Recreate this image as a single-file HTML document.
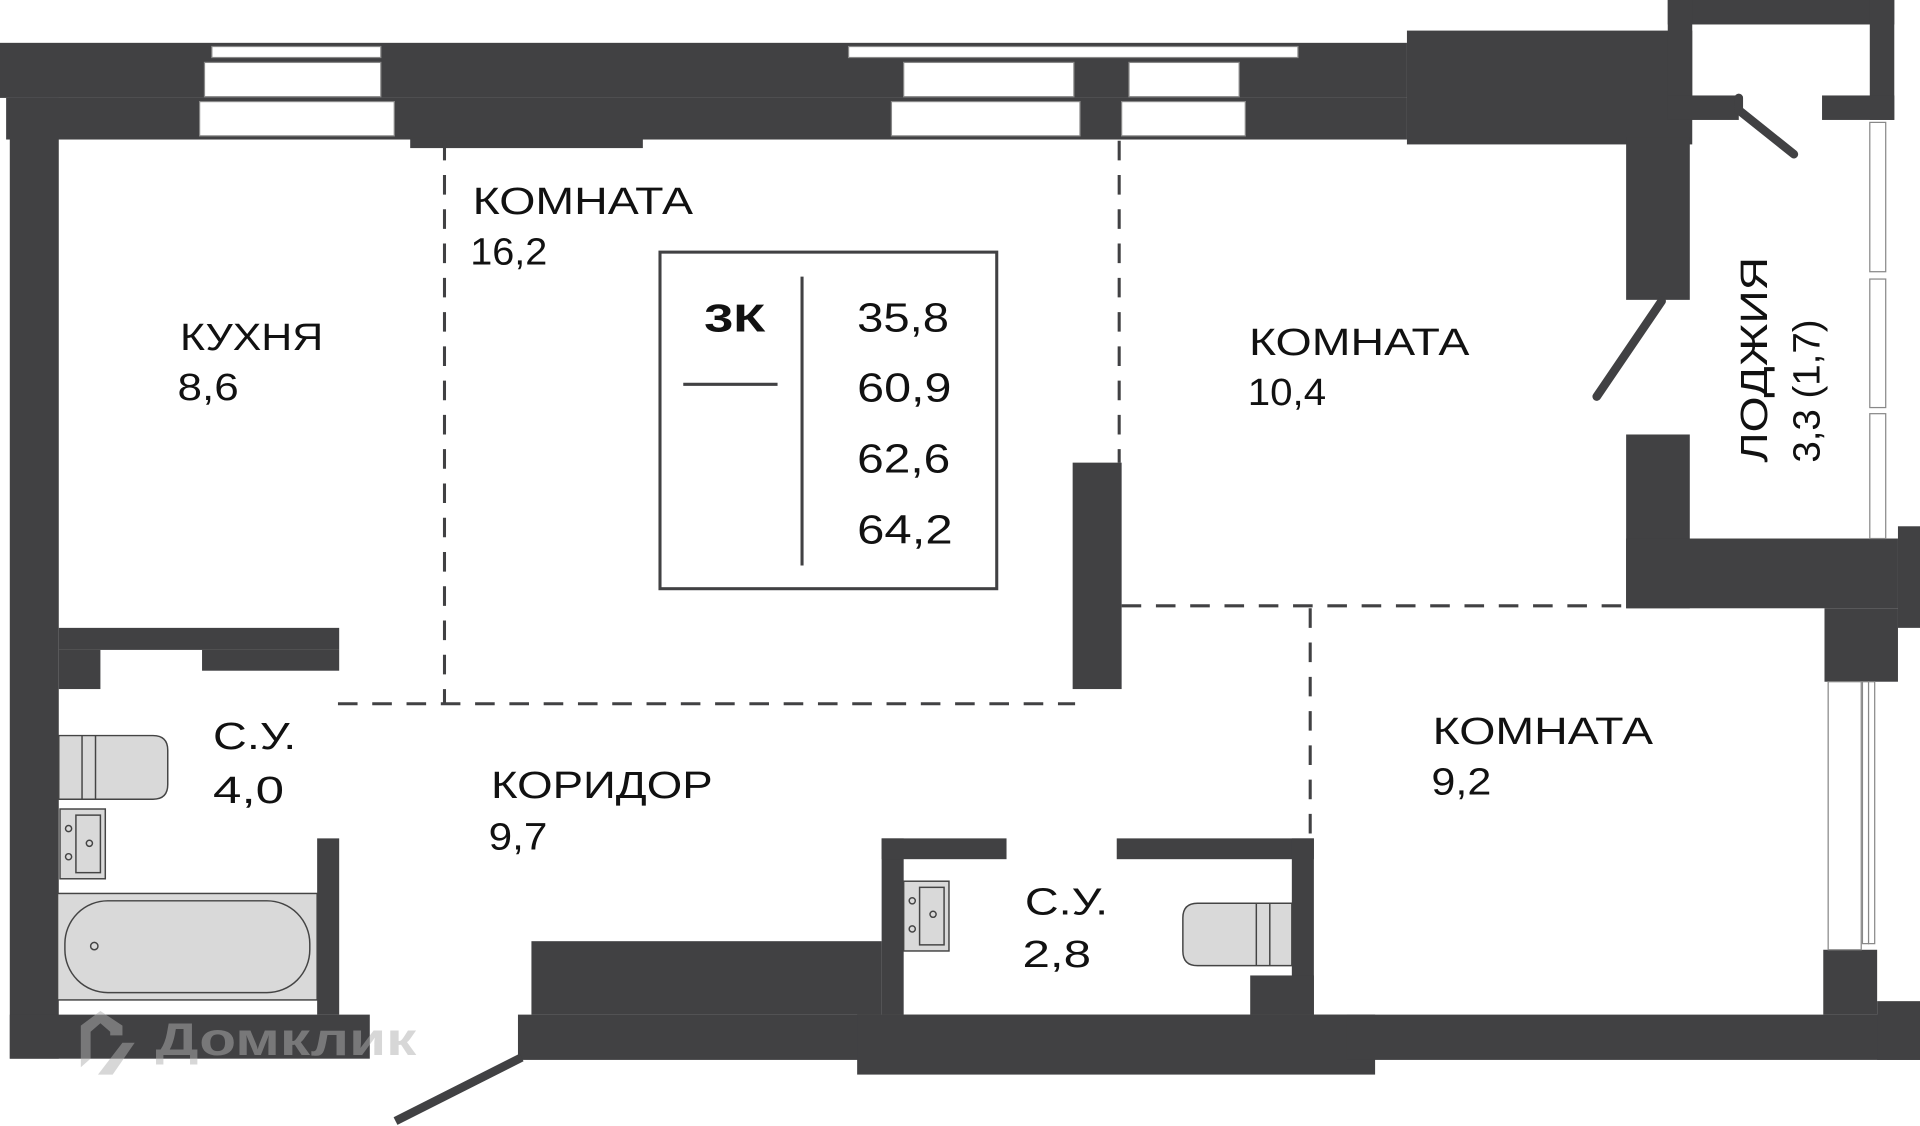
<!DOCTYPE html>
<html><head><meta charset="utf-8"><style>
html,body{margin:0;padding:0;background:#fff;width:1920px;height:1126px;overflow:hidden}
svg{display:block}
text{font-family:"Liberation Sans","DejaVu Sans",sans-serif;fill:#111}
</style></head><body>
<svg width="1920" height="1126" viewBox="0 0 1568 920" preserveAspectRatio="none" xmlns="http://www.w3.org/2000/svg">
<g fill="#414143">
<rect x="0" y="35" width="1149" height="45"/>
<rect x="5" y="80" width="1144" height="34"/>
<rect x="1149" y="25" width="233" height="93"/>
<rect x="335" y="112" width="190" height="9"/>
<rect x="1362" y="0" width="185" height="20"/>
<rect x="1362" y="0" width="20" height="98"/>
<rect x="1527" y="0" width="20" height="98"/>
<rect x="1488" y="78" width="59" height="20"/>
<rect x="1362" y="78" width="58" height="20"/>
<rect x="1328" y="112" width="52" height="133"/>
<rect x="1328" y="355" width="52" height="142"/>
<rect x="1328" y="440" width="222" height="57"/>
<rect x="1550" y="430" width="18" height="83"/>
<rect x="1490" y="497" width="60" height="60"/>
<rect x="1489" y="776" width="44" height="53"/>
<rect x="8" y="80" width="40" height="785"/>
<rect x="48" y="513" width="229" height="18"/>
<rect x="165" y="531" width="112" height="17"/>
<rect x="48" y="531" width="34" height="32"/>
<rect x="259" y="685" width="18" height="144"/>
<rect x="8" y="829" width="294" height="36"/>
<rect x="876" y="378" width="40" height="185"/>
<rect x="434" y="769" width="286" height="60"/>
<rect x="423" y="829" width="700" height="37"/>
<rect x="700" y="829" width="423" height="49"/>
<rect x="1100" y="829" width="468" height="37"/>
<rect x="1533" y="818" width="35" height="48"/>
<rect x="720" y="685" width="18" height="144"/>
<rect x="720" y="685" width="102" height="17"/>
<rect x="912" y="685" width="161" height="17"/>
<rect x="1055" y="685" width="18" height="144"/>
<rect x="1021" y="797" width="52" height="32"/>
</g>
<g fill="#fff" stroke="#888" stroke-width="1">
<rect x="173" y="38" width="138" height="9"/>
<rect x="167" y="51" width="144" height="28"/>
<rect x="163" y="83" width="159" height="28"/>
<rect x="693" y="38" width="367" height="9"/>
<rect x="738" y="51" width="139" height="28"/>
<rect x="922" y="51" width="90" height="28"/>
<rect x="728" y="83" width="154" height="28"/>
<rect x="916" y="83" width="101" height="28"/>
<rect x="1527" y="100" width="13" height="122"/>
<rect x="1527" y="228" width="13" height="105"/>
<rect x="1527" y="338" width="13" height="102"/>
<rect x="1493" y="557" width="27" height="219"/>
<rect x="1521" y="557" width="5" height="214"/>
<rect x="1526" y="557" width="5" height="214"/>
</g>
<g stroke="#414143" stroke-width="7" stroke-linecap="round" fill="none">
<polyline points="1420,80 1420,90 1465,126"/>
<line x1="1357" y1="246" x2="1304" y2="324"/>
<line x1="426" y1="864" x2="323" y2="916" stroke-linecap="butt"/>
</g>
<g stroke="#414143" stroke-width="2.5" stroke-dasharray="16,12" fill="none">
<line x1="363" y1="115" x2="363" y2="575"/>
<line x1="276" y1="575" x2="878" y2="575"/>
<line x1="914" y1="115" x2="914" y2="378"/>
<line x1="916" y1="495" x2="1328" y2="495"/>
<line x1="1070" y1="497" x2="1070" y2="685"/>
</g>
<g fill="#d9d9d9" stroke="#444" stroke-width="1.2">
<rect x="47" y="730" width="212" height="87"/>
<rect x="53" y="736" width="200" height="75" rx="35" ry="35"/>
<path d="M48,601 H125 Q137,601 137,613 V641 Q137,653 125,653 H48 Z"/>
<rect x="49" y="661" width="37" height="57"/>
<path d="M1055,738 H978 Q966,738 966,750 V777 Q966,789 978,789 H1055 Z"/>
<rect x="738" y="720" width="37" height="57"/>
</g>
<g stroke="#444" stroke-width="1.2" fill="none">
<line x1="67" y1="601" x2="67" y2="653"/><line x1="78" y1="601" x2="78" y2="653"/>
<line x1="1026" y1="738" x2="1026" y2="789"/><line x1="1037" y1="738" x2="1037" y2="789"/>
<rect x="62" y="666" width="20" height="47"/><rect x="751" y="725" width="20" height="47"/>
<circle cx="77" cy="773" r="3"/>
<circle cx="56" cy="677" r="2.5"/><circle cx="56" cy="700" r="2.5"/><circle cx="73" cy="689" r="2.5"/>
<circle cx="745" cy="736" r="2.5"/><circle cx="745" cy="759" r="2.5"/><circle cx="762" cy="747" r="2.5"/>
</g>
<rect x="539" y="206" width="275" height="275" fill="none" stroke="#414143" stroke-width="2.5"/>
<line x1="655" y1="226" x2="655" y2="462" stroke="#414143" stroke-width="2.5"/>
<line x1="558" y1="314" x2="635" y2="314" stroke="#414143" stroke-width="2.5"/>
<text x="575" y="271" font-size="32" font-weight="bold" textLength="50" lengthAdjust="spacingAndGlyphs">3К</text>
<g font-size="33">
<text x="700" y="271" textLength="75" lengthAdjust="spacingAndGlyphs">35,8</text>
<text x="700" y="328" textLength="77" lengthAdjust="spacingAndGlyphs">60,9</text>
<text x="700" y="386" textLength="76" lengthAdjust="spacingAndGlyphs">62,6</text>
<text x="700" y="444" textLength="78" lengthAdjust="spacingAndGlyphs">64,2</text>
</g>
<g font-size="31">
<text x="386" y="175" textLength="180" lengthAdjust="spacingAndGlyphs">КОМНАТА</text>
<text x="384" y="216" textLength="63" lengthAdjust="spacingAndGlyphs">16,2</text>
<text x="147" y="286" textLength="117" lengthAdjust="spacingAndGlyphs">КУХНЯ</text>
<text x="145" y="327" textLength="50" lengthAdjust="spacingAndGlyphs">8,6</text>
<text x="1020" y="290" textLength="180" lengthAdjust="spacingAndGlyphs">КОМНАТА</text>
<text x="1019" y="331" textLength="64" lengthAdjust="spacingAndGlyphs">10,4</text>
<text x="1170" y="608" textLength="180" lengthAdjust="spacingAndGlyphs">КОМНАТА</text>
<text x="1169" y="649" textLength="49" lengthAdjust="spacingAndGlyphs">9,2</text>
<text x="174" y="612" textLength="68" lengthAdjust="spacingAndGlyphs">С.У.</text>
<text x="174" y="656" textLength="58" lengthAdjust="spacingAndGlyphs">4,0</text>
<text x="401" y="652" textLength="181" lengthAdjust="spacingAndGlyphs">КОРИДОР</text>
<text x="399" y="694" textLength="48" lengthAdjust="spacingAndGlyphs">9,7</text>
<text x="837" y="747" textLength="68" lengthAdjust="spacingAndGlyphs">С.У.</text>
<text x="835" y="790" textLength="56" lengthAdjust="spacingAndGlyphs">2,8</text>
<text transform="translate(1443,378) rotate(-90)" textLength="168" lengthAdjust="spacingAndGlyphs">ЛОДЖИЯ</text>
<text transform="translate(1486,378) rotate(-90)" textLength="117" lengthAdjust="spacingAndGlyphs">3,3 (1,7)</text>
</g>
<g fill="#b0b0b0" fill-opacity="0.5">
<path d="M66,838 L82,826 L100,838 L100,846 L90,846 L90,843 L82,836 L74,843 L74,865 L66,872 Z"/>
<path d="M100,852 L110,852 L92,878 L80,878 Z"/>
<text x="127" y="862" font-size="38" font-weight="bold" style="fill:#b0b0b0;fill-opacity:0.5" textLength="213" lengthAdjust="spacingAndGlyphs">Домклик</text>
</g>
</svg>
</body></html>
